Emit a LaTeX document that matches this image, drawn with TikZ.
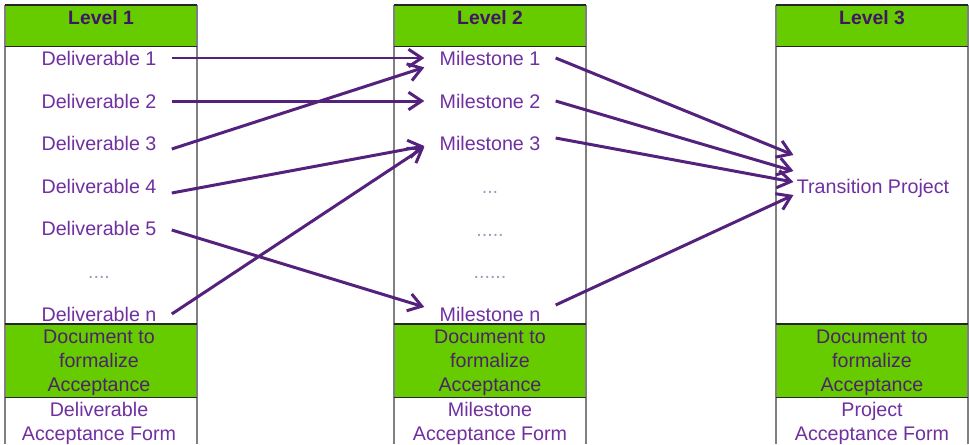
\documentclass[tikz,border=0pt]{standalone}
\usepackage{fontspec}
\setmainfont{Liberation Sans}
\usetikzlibrary{arrows.meta}
\definecolor{lvlgreen}{RGB}{102,204,0}
\definecolor{itempurple}{RGB}{112,48,160}
\definecolor{headpurple}{RGB}{64,22,100}
\definecolor{bandpurple}{RGB}{76,36,104}
\definecolor{arrowpurple}{RGB}{84,34,124}
\definecolor{dotgray}{RGB}{150,160,190}
\definecolor{edgegray}{RGB}{128,128,128}
\tikzset{
  txt/.style={font=\fontsize{11.2}{13.7}\selectfont},
  item/.style={txt, text=itempurple, inner xsep=0.3cm, inner ysep=0pt, text height=0.32cm, text depth=0.04cm},
  dots/.style={item, text=dotgray},
  head/.style={txt, font=\fontsize{11}{13.7}\selectfont\bfseries, text=headpurple},
  band/.style={txt, text=bandpurple, align=center, inner sep=0pt},
  form/.style={txt, text=itempurple, align=center, inner sep=0pt},
  edge/.style={draw=edgegray, line width=1.1pt},
  rule/.style={draw=black!85, line width=1pt},
  link/.style={draw=arrowpurple, line width=1.7pt, -{Straight Barb[length=7.5pt,width=10pt]}}
}
\begin{document}
\begin{tikzpicture}[x=0.02cm, y=-0.02cm]
				\fill[white] (0,0) rectangle (969,444);
				\useasboundingbox (0,0) rectangle (969,444);
				% level 1
				\fill[lvlgreen] (5,5) rectangle (197,46.5);
				\fill[lvlgreen] (5,324) rectangle (197,397.5);
				\draw[edge] (5,5) -- (5,444);
				\draw[edge] (197,5) -- (197,444);
				\draw[rule] (5,5) -- (197,5);
				\draw[rule] (5,46.5) -- (197,46.5);
				\draw[rule] (5,324) -- (197,324);
				\draw[rule] (5,397.5) -- (197,397.5);
				% level 2
				\fill[lvlgreen] (394,5) rectangle (586,46.5);
				\fill[lvlgreen] (394,324) rectangle (586,397.5);
				\draw[edge] (394,5) -- (394,444);
				\draw[edge] (586,5) -- (586,444);
				\draw[rule] (394,5) -- (586,5);
				\draw[rule] (394,46.5) -- (586,46.5);
				\draw[rule] (394,324) -- (586,324);
				\draw[rule] (394,397.5) -- (586,397.5);
				% level 3
				\fill[lvlgreen] (776,5) rectangle (968,46.5);
				\fill[lvlgreen] (776,324) rectangle (968,397.5);
				\draw[edge] (776,5) -- (776,444);
				\draw[edge] (968,5) -- (968,444);
				\draw[rule] (776,5) -- (968,5);
				\draw[rule] (776,46.5) -- (968,46.5);
				\draw[rule] (776,324) -- (968,324);
				\draw[rule] (776,397.5) -- (968,397.5);
				% headings
				\node[head] (h1) at (101,18) {Level 1};
				\node[head] (h2) at (490,18) {Level 2};
				\node[head] (h3) at (872,18) {Level 3};
				% deliverables
				\node[item] (d1) at (99,58) {Deliverable 1};
				\node[item] (d2) at (99,101) {Deliverable 2};
				\node[item] (d3) at (99,143) {Deliverable 3};
				\node[item] (d4) at (99,186) {Deliverable 4};
				\node[item] (d5) at (99,228) {Deliverable 5};
				\node[dots] (dd) at (99,271) {....};
				\node[item] (dn) at (99,314) {Deliverable n};
				% milestones
				\node[item] (m1) at (490,58) {Milestone 1};
				\node[item] (m2) at (490,101) {Milestone 2};
				\node[item] (m3) at (490,143) {Milestone 3};
				\node[dots] (md1) at (490,186) {...};
				\node[dots] (md2) at (490,229) {.....};
				\node[dots] (md3) at (490,271) {......};
				\node[item] (mn) at (490,314) {Milestone n};
				% project
				\node[item, inner xsep=0.06cm] (tp) at (873,186) {Transition Project};
				% acceptance
				\node[band] (b1) at (99,363) {Document to\\formalize\\Acceptance};
				\node[band] (b2) at (490,363) {Document to\\formalize\\Acceptance};
				\node[band] (b3) at (872,363) {Document to\\formalize\\Acceptance};
				\node[form] (f1) at (99,423) {Deliverable\\Acceptance Form};
				\node[form] (f2) at (490,423) {Milestone\\Acceptance Form};
				\node[form] (f3) at (872,423) {Project\\Acceptance Form};
				% links
				\draw[link] (d1.east) -- (m1.west);
				\draw[link] (d2.east) -- (m2.west);
				\draw[link] ([yshift=-0.12cm]d3.east) -- (m1.south west);
				\draw[link] ([yshift=-0.14cm]d4.east) -- ([yshift=-0.06cm]m3.west);
				\draw[link] (dn.east) -- ([yshift=-0.08cm]m3.west);
				\draw[link] ([yshift=-0.04cm]d5.east) -- ([yshift=0.14cm]mn.west);
				\draw[link] (m1.east) -- ([yshift=0.62cm]tp.west);
				\draw[link] (m2.east) -- ([yshift=0.3cm]tp.west);
				\draw[link] ([yshift=0.1cm]m3.east) -- ([yshift=0.08cm]tp.west);
				\draw[link] ([yshift=0.18cm]mn.east) -- ([yshift=-0.18cm]tp.west);
\end{tikzpicture}
\end{document}
